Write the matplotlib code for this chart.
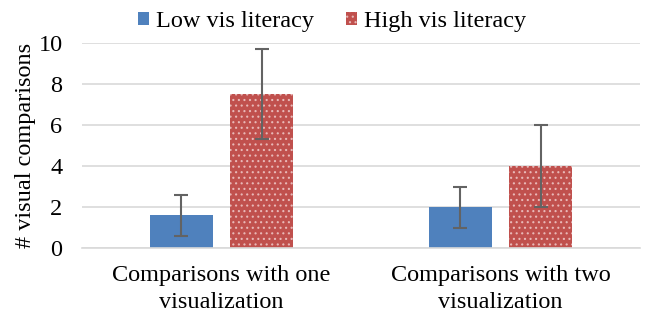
import numpy as np
import matplotlib
matplotlib.use('Agg')
import matplotlib.pyplot as plt

categories = ['Comparisons with one\nvisualization', 'Comparisons with two\nvisualization']
low_vals = [1.6, 2.0]
low_err = [1.0, 1.0]
high_vals = [7.5, 4.0]
high_err = [2.2, 2.0]

plt.rcParams['font.family'] = 'Liberation Serif'
plt.rcParams['hatch.linewidth'] = 0.8

fig = plt.figure(figsize=(6.49, 3.16), dpi=100)
ax = fig.add_axes([82/649, 68/316, 558/649, 205/316])

x = np.arange(len(categories))
w = 0.226
ax.bar(x - 0.145, low_vals, w, color='#4F81BD', label='Low vis literacy', zorder=2)
ax.bar(x + 0.145, high_vals, w, color='#C0504D', edgecolor='#E8B8B7', linewidth=0,
       hatch='...', label='High vis literacy', zorder=2)
ax.errorbar(x - 0.145, low_vals, yerr=low_err, fmt='none', ecolor='#636363',
            elinewidth=1.5, capsize=5, capthick=1.5, zorder=3)
ax.errorbar(x + 0.145, high_vals, yerr=high_err, fmt='none', ecolor='#636363',
            elinewidth=1.5, capsize=5, capthick=1.5, zorder=3)

ax.set_xlim(-0.5, 1.5)
ax.set_ylim(0, 10)
ax.set_yticks([0, 2, 4, 6, 8, 10])
ax.set_xticks(x)
ax.set_xticklabels(categories, fontsize=17.5, linespacing=1.4)
ax.tick_params(axis='y', labelsize=17.5, length=0, pad=14)
ax.tick_params(axis='x', length=0, pad=12)
ax.yaxis.grid(True, color='#D9D9D9', linewidth=1.2, zorder=0)
for s in ['top', 'right', 'left']:
    ax.spines[s].set_visible(False)
ax.spines['bottom'].set_color('#D9D9D9')
ax.spines['bottom'].set_linewidth(1.2)
ax.set_ylabel('# visual comparisons', fontsize=17.5)
ax.yaxis.set_label_coords(-0.083, 0.5)

fig.legend(loc='upper center', bbox_to_anchor=(0.512, 1.035), ncol=2, frameon=False,
           fontsize=17.5, handlelength=0.45, handleheight=0.45, columnspacing=1.3,
           handletextpad=0.3)

fig.savefig('out.png', dpi=100)
